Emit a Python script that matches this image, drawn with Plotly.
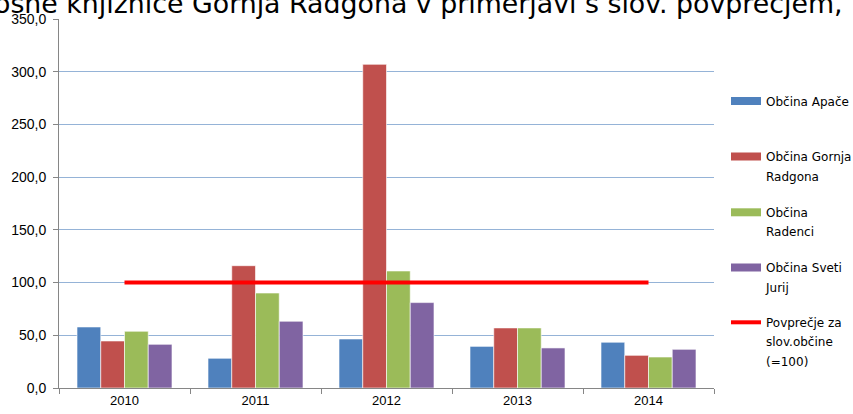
import plotly.graph_objects as go

years = ["2010", "2011", "2012", "2013", "2014"]
apace = [57.9, 28.2, 46.5, 39.5, 43.4]
gornja_radgona = [44.6, 116.0, 307.0, 57.0, 31.0]
radenci = [53.8, 90.1, 111.0, 57.0, 29.4]
sveti_jurij = [41.4, 63.3, 81.0, 38.0, 36.7]
povprecje = [100, 100, 100, 100, 100]

bar_names = ["Občina Apače", "Občina Gornja Radgona", "Občina Radenci", "Občina Sveti Jurij"]
# legend labels, one list of lines per series (wrapped as in the reference)
legend_lines = [["Občina Apače"], ["Občina Gornja", "Radgona"], ["Občina", "Radenci"],
                ["Občina Sveti", "Jurij"], ["Povprečje za", "slov.občine", "(=100)"]]
colors = ["#4F81BD", "#C0504D", "#9BBB59", "#8064A2"]
series = [apace, gornja_radgona, radenci, sveti_jurij]
line_color = "#FF0000"

# vertical centre (px from top) of the first legend line of each entry, and line spacing
legend_first_line = [102.7, 158.3, 214.0, 269.3, 324.0]
legend_line_step = 19.3

fig = go.Figure()
for n, c, s in zip(bar_names, colors, series):
    fig.add_trace(go.Bar(x=years, y=s, name=n, showlegend=False,
                         marker=dict(color=c, line=dict(color="rgba(255,255,255,0.6)", width=1))))
fig.add_trace(go.Scatter(x=years, y=povprecje, mode="lines", name="Povprečje za slov.občine (=100)",
                         showlegend=False, line=dict(color=line_color, width=4)))

legend_common = dict(xref="container", yref="container", x=726 / 853, xanchor="left", yanchor="top",
                     valign="top", font=dict(family="DejaVu Sans", size=12), itemwidth=30,
                     bgcolor="rgba(0,0,0,0)", maxheight=1)
layout_legends = {}
k = 0
swatches = [(c, 8) for c in colors] + [(line_color, 4)]
for lines, first, (sc, sw) in zip(legend_lines, legend_first_line, swatches):
    for j, txt in enumerate(lines):
        k += 1
        key = "legend" if k == 1 else f"legend{k}"
        top = first + j * legend_line_step - 16
        layout_legends[key] = dict(legend_common, y=1 - top / 414)
        fig.add_trace(go.Scatter(x=[None], y=[None], mode="lines", name=txt, legend=key,
                                 hoverinfo="skip",
                                 line=dict(color=sc if j == 0 else "rgba(0,0,0,0)", width=sw)))

fig.update_layout(
    width=853, height=414,
    margin=dict(l=59, r=139, t=19, b=26, autoexpand=False),
    paper_bgcolor="white", plot_bgcolor="white",
    barmode="group", bargap=0.275, bargroupgap=0,
    separators=",.",
    font=dict(family="DejaVu Sans", size=12, color="#000000"),
    showlegend=True,
    **layout_legends,
)
fig.update_xaxes(type="category", showline=True, linecolor="#868686", linewidth=1,
                 ticks="outside", tickson="boundaries", ticklen=5, tickcolor="#868686",
                 tickfont=dict(family="Liberation Sans", size=13), showgrid=False, automargin=False)
fig.update_yaxes(range=[0, 350], dtick=50, tickformat=".1f", showline=True, linecolor="#868686",
                 linewidth=1, ticks="outside", ticklen=5, tickcolor="#868686", ticklabelstandoff=4,
                 gridcolor="#95B3D7", gridwidth=1, zeroline=False, automargin=False,
                 tickfont=dict(family="Liberation Sans", size=14))

fig.add_annotation(text="osne knjižnice Gornja Radgona v primerjavi s slov. povprečjem,",
                   xref="paper", yref="paper", x=-67 / 655, y=1.0, xanchor="left", yanchor="bottom",
                   yshift=-2, showarrow=False, font=dict(family="DejaVu Sans", size=26.8, color="#000000"))

fig.write_html("out.html", config={"displayModeBar": False},
               post_script="document.body.style.margin='0';")
